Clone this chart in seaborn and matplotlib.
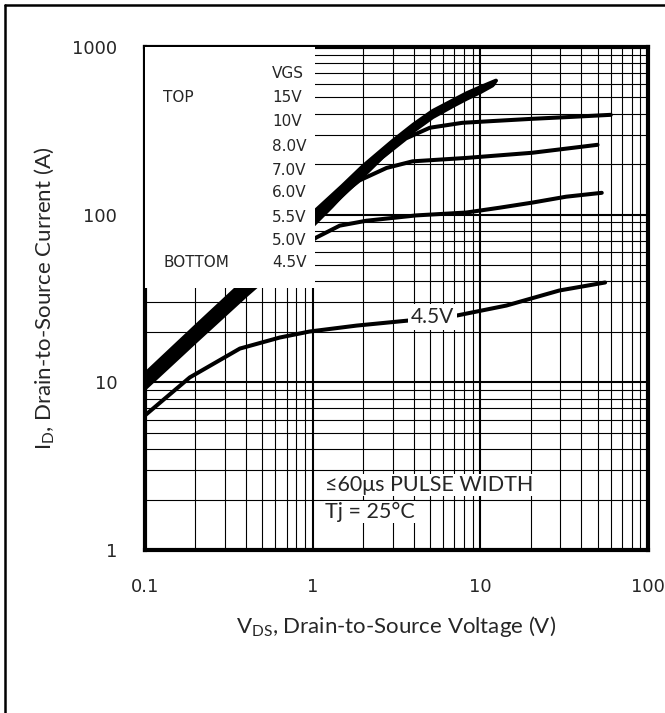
import numpy as np
import pandas as pd
import matplotlib
matplotlib.use("Agg")
import matplotlib.pyplot as plt
import seaborn as sns
from matplotlib.lines import Line2D
from matplotlib.patches import Rectangle

# Output characteristics
vds_15 = [0.1, 0.2, 0.4, 0.7, 1.0, 1.5, 2.0, 3.0, 4.0, 5.2, 7.0, 8.3, 10.0, 12.4]
id_15 = [11.2, 21.5, 41, 70, 102, 148, 195, 275, 345, 415, 485, 530, 575, 630]

vds_10 = [0.1, 0.2, 0.4, 0.7, 1.0, 1.5, 2.0, 3.0, 4.0, 5.2, 7.0, 8.3, 10.0, 12.2]
id_10 = [10.8, 20.7, 39.5, 67, 98, 143, 188, 266, 335, 403, 472, 515, 560, 615]

vds_8 = [0.1, 0.2, 0.4, 0.7, 1.0, 1.5, 2.0, 3.0, 4.0, 5.2, 7.0, 8.3, 10.0, 12.0]
id_8 = [10.4, 20.0, 38, 65, 95, 138, 182, 258, 325, 392, 460, 503, 548, 600]

vds_7 = [0.1, 0.2, 0.4, 0.7, 1.0, 1.5, 2.0, 3.0, 4.0, 5.2, 7.0, 8.3, 10.0, 11.8]
id_7 = [10.0, 19.3, 36.7, 63, 92, 134, 176, 250, 316, 382, 450, 492, 538, 590]

vds_6 = [0.1, 0.2, 0.4, 0.7, 1.0, 1.5, 2.0, 2.6, 3.6, 5.0, 7.8, 12.0, 20.4, 35.0, 60.0]
id_6 = [9.7, 18.7, 35.5, 61, 89, 130, 170, 220, 285, 330, 353, 362, 373, 383, 394]

vds_55 = [0.1, 0.2, 0.4, 0.7, 1.0, 1.3, 1.6, 1.9, 2.76, 3.94, 8.26, 20.4, 50.0]
id_55 = [9.5, 18.2, 34.5, 59, 86, 112, 140, 160, 190, 208, 218, 234, 261]

vds_5 = [0.1, 0.2, 0.4, 0.6, 0.8, 1.05, 1.45, 2.09, 4.15, 8.26, 13.0, 20.4, 32.5, 53.0]
id_5 = [9.2, 17.5, 33, 47, 60, 73, 86, 92, 99, 103, 110, 118, 128, 135]

vds_45 = [0.1, 0.185, 0.368, 0.636, 0.96, 1.83, 3.78, 7.2, 14.3, 29.6, 55.5]
id_45 = [6.35, 10.7, 15.9, 18.5, 20.1, 21.8, 23.4, 25.0, 28.7, 35.3, 39.4]

vgs_labels = ["15V", "10V", "8.0V", "7.0V", "6.0V", "5.5V", "5.0V", "4.5V"]
curves = [(vds_15, id_15), (vds_10, id_10), (vds_8, id_8), (vds_7, id_7),
          (vds_6, id_6), (vds_55, id_55), (vds_5, id_5), (vds_45, id_45)]

x_ticks = [0.1, 1, 10, 100]
x_tick_labels = ["0.1", "1", "10", "100"]
y_ticks = [1, 10, 100, 1000]
y_tick_labels = ["1", "10", "100", "1000"]

frames = []
for lab, (v, i) in zip(vgs_labels, curves):
    frames.append(pd.DataFrame({"vds": v, "id": i, "vgs": lab}))
df = pd.concat(frames, ignore_index=True)

sns.set_style("white")
plt.rcParams['font.family'] = ['DejaVu Sans']
LABEL_FONT = ['Lato', 'DejaVu Sans']

fig = plt.figure(figsize=(6.65, 7.13), dpi=100)
ax = fig.add_axes([145 / 665, 163 / 713, 503 / 665, 503 / 713])

sns.lineplot(data=df, x="vds", y="id", hue="vgs", hue_order=vgs_labels,
             palette=["black"] * len(vgs_labels), estimator=None, sort=True,
             legend=False, lw=2.9, ax=ax, zorder=2.6)

ax.set_xscale("log")
ax.set_yscale("log")
ax.set_xlim(0.1, 100)
ax.set_ylim(1, 1000)
ax.set_xticks(x_ticks, x_tick_labels)
ax.set_yticks(y_ticks, y_tick_labels)

ax.grid(True, which="major", color="black", lw=1.5)
ax.grid(True, which="minor", color="black", lw=0.8)
ax.tick_params(which="both", direction="in", length=0, labelsize=13)
ax.tick_params(axis="x", pad=20)
ax.tick_params(axis="y", pad=20)

for sp in ax.spines.values():
    sp.set_color("black")
    sp.set_linewidth(3)

# white legend panel in the top left corner
ax.add_patch(Rectangle((0, (550 - 288) / 503), 170 / 503, 1, transform=ax.transAxes,
                       facecolor="white", edgecolor="none", zorder=3))

rows_y = [0.899, 0.851, 0.803, 0.755, 0.710, 0.662, 0.616, 0.571]
ax.text(0.2525, 0.948, "VGS", transform=ax.transAxes, fontsize=11, va="center", zorder=4)
for lab, yy in zip(vgs_labels, rows_y):
    ax.text(0.2525, yy, lab, transform=ax.transAxes, fontsize=11, va="center", zorder=4)
ax.text(0.036, rows_y[0], "TOP", transform=ax.transAxes, fontsize=11, va="center", zorder=4)
ax.text(0.036, rows_y[-1], "BOTTOM", transform=ax.transAxes, fontsize=11, va="center", zorder=4)

ax.text(0.571, 0.463, "4.5V", transform=ax.transAxes, fontsize=15, family=LABEL_FONT,
        ha="center", va="center", bbox=dict(facecolor="white", edgecolor="none", pad=2), zorder=4)
ax.text(0.358, 0.129, "≤60μs PULSE WIDTH", transform=ax.transAxes, fontsize=15.5,
        family=LABEL_FONT, va="center", bbox=dict(facecolor="white", edgecolor="none", pad=1), zorder=4)
ax.text(0.358, 0.0755, "Tj = 25°C", transform=ax.transAxes, fontsize=15.5,
        family=LABEL_FONT, va="center", bbox=dict(facecolor="white", edgecolor="none", pad=1), zorder=4)

ax.set_xlabel(r"V$\mathregular{_{DS}}$, Drain-to-Source Voltage (V)", fontsize=16, family=LABEL_FONT)
ax.set_ylabel(r"I$\mathregular{_{D}}$, Drain-to-Source Current (A)", fontsize=16, family=LABEL_FONT)
ax.xaxis.set_label_coords(0.5, -0.127)
ax.yaxis.set_label_coords(-0.177, 0.5)

# outer frame of the datasheet figure (cropped on right and bottom)
fig.add_artist(Line2D([5 / 665, 1], [1 - 5 / 713, 1 - 5 / 713], transform=fig.transFigure,
                      color="black", lw=1.8))
fig.add_artist(Line2D([5 / 665, 5 / 665], [0, 1 - 5 / 713], transform=fig.transFigure,
                      color="black", lw=1.8))

fig.savefig("out.png", dpi=100)
